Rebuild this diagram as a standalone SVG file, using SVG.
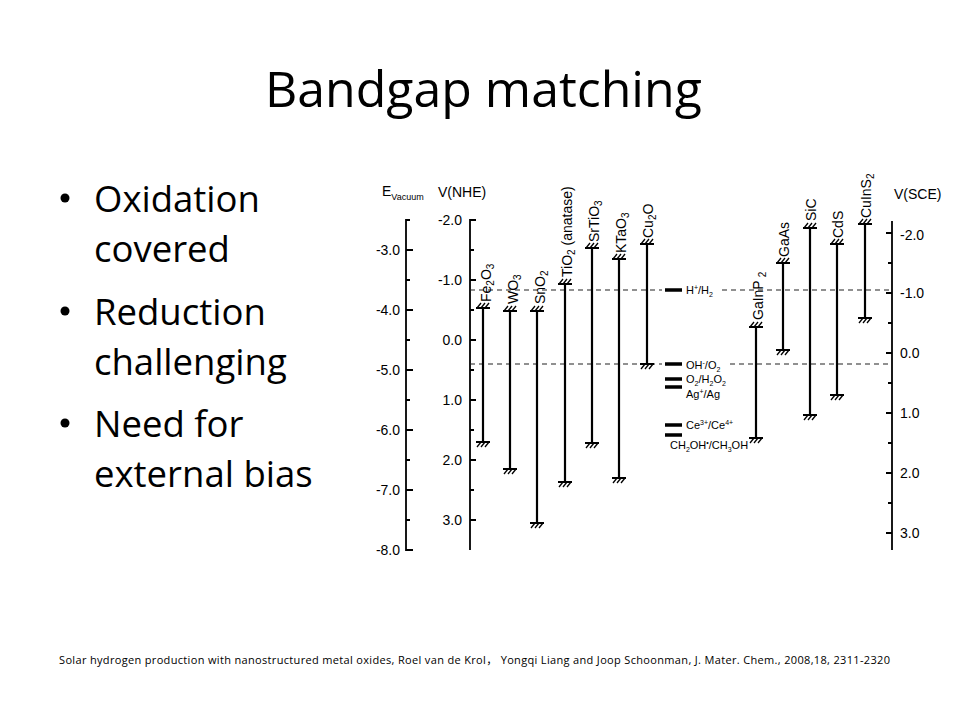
<svg xmlns="http://www.w3.org/2000/svg" width="960" height="720" viewBox="0 0 960 720">
<style>
.ttl{font-family:"Open Sans","Liberation Sans",sans-serif;font-size:50px;fill:#000}
.bul{font-family:"Open Sans","Liberation Sans",sans-serif;font-size:36.5px;fill:#000}
.ref{font-family:"Open Sans","Liberation Sans","Noto Sans CJK SC",sans-serif;font-size:11px;fill:#000}
.ax{font-family:"Liberation Sans",Arial,sans-serif;font-size:14px;fill:#000}
.axr{font-family:"Liberation Sans",Arial,sans-serif;font-size:14px;fill:#000;text-anchor:end}
.lab{font-family:"Liberation Sans",Arial,sans-serif;font-size:14px;fill:#000}
.rx{font-family:"Liberation Sans",Arial,sans-serif;font-size:11px;fill:#000}
.line{stroke:#000;stroke-width:1.8;fill:none}
.bar{stroke:#000;stroke-width:2.2;fill:none}
.dash{stroke:#222;stroke-width:1.1;stroke-dasharray:5,4;fill:none}
.rb{stroke:#000;stroke-width:3.5}
</style>
<defs>
<g id="hT" stroke="#000" fill="none" stroke-width="1.3">
<line x1="-7" y1="0" x2="7" y2="0" stroke-width="2"/>
<line x1="-6" y1="0" x2="-2" y2="-5"/>
<line x1="-2" y1="0" x2="2" y2="-5"/>
<line x1="2" y1="0" x2="6" y2="-5"/>
</g>
<g id="hB" stroke="#000" fill="none" stroke-width="1.3">
<line x1="-7" y1="0" x2="7" y2="0" stroke-width="2"/>
<line x1="-6" y1="5" x2="-2" y2="0"/>
<line x1="-2" y1="5" x2="2" y2="0"/>
<line x1="2" y1="5" x2="6" y2="0"/>
</g>
</defs>
<rect width="960" height="720" fill="#fff"/>

<text class="ttl" x="265" y="107">Bandgap matching</text>

<g id="bullets">
<circle cx="65" cy="198" r="4.5"/>
<text class="bul" x="94" y="212">Oxidation</text>
<text class="bul" x="94" y="262">covered</text>
<circle cx="65" cy="311" r="4.5"/>
<text class="bul" x="94" y="325">Reduction</text>
<text class="bul" x="94" y="375">challenging</text>
<circle cx="65" cy="423" r="4.5"/>
<text class="bul" x="94" y="437">Need for</text>
<text class="bul" x="94" y="487">external bias</text>
</g>

<g id="axis-vacuum">
<text class="ax" x="382" y="196">E<tspan font-size="9" dy="4">Vacuum</tspan></text>
<path class="line" d="M410 220H406V550H413"/>
<path class="line" d="M406 250h7M406 310h7M406 370h7M406 430h7M406 490h7M406 280h4M406 340h4M406 400h4M406 460h4M406 520h4"/>
<text class="axr" x="400" y="255">-3.0</text>
<text class="axr" x="400" y="315">-4.0</text>
<text class="axr" x="400" y="375">-5.0</text>
<text class="axr" x="400" y="435">-6.0</text>
<text class="axr" x="400" y="495">-7.0</text>
<text class="axr" x="400" y="555">-8.0</text>
</g>

<g id="axis-nhe">
<text class="ax" x="438" y="197">V(NHE)</text>
<path class="line" d="M476 220H470V550"/>
<path class="line" d="M470 280h6M470 340h6M470 400h6M470 460h6M470 520h6M470 250h4M470 310h4M470 370h4M470 430h4M470 490h4"/>
<text class="axr" x="462" y="225">-2.0</text>
<text class="axr" x="462" y="285">-1.0</text>
<text class="axr" x="462" y="345">0.0</text>
<text class="axr" x="462" y="405">1.0</text>
<text class="axr" x="462" y="465">2.0</text>
<text class="axr" x="462" y="525">3.0</text>
</g>

<g id="axis-sce">
<text class="ax" x="894" y="199">V(SCE)</text>
<path class="line" d="M892 221V550"/>
<path class="line" d="M886 233h6M886 293h6M886 353h6M886 413h6M886 473h6M886 533h6M888 263h4M888 323h4M888 383h4M888 443h4M888 503h4"/>
<text class="ax" x="900" y="240">-2.0</text>
<text class="ax" x="900" y="298">-1.0</text>
<text class="ax" x="900" y="358">0.0</text>
<text class="ax" x="900" y="418">1.0</text>
<text class="ax" x="900" y="478">2.0</text>
<text class="ax" x="900" y="538">3.0</text>
</g>

<g id="connectors">
<path class="dash" d="M470 290H662M722 290H890"/>
<path class="dash" d="M470 364H662M730 364H890"/>
</g>

<g id="redox">
<path class="rb" d="M665 290h17M665 364h17M665 379h17M665 387h17M665 425h17M665 435h17"/>
<text class="rx" x="686" y="294">H<tspan font-size="7" dy="-4">+</tspan><tspan dy="4">/H</tspan><tspan font-size="7" dy="3">2</tspan></text>
<text class="rx" x="686" y="369">OH<tspan font-size="7" dy="-4">-</tspan><tspan dy="4">/O</tspan><tspan font-size="7" dy="3">2</tspan></text>
<text class="rx" x="686" y="383">O<tspan font-size="7" dy="3">2</tspan><tspan dy="-3">/H</tspan><tspan font-size="7" dy="3">2</tspan><tspan dy="-3">O</tspan><tspan font-size="7" dy="3">2</tspan></text>
<text class="rx" x="686" y="398">Ag<tspan font-size="7" dy="-4">+</tspan><tspan dy="4">/Ag</tspan></text>
<text class="rx" x="686" y="429">Ce<tspan font-size="7" dy="-4">3+</tspan><tspan dy="4">/Ce</tspan><tspan font-size="7" dy="-4">4+</tspan></text>
<text class="rx" x="670" y="449">CH<tspan font-size="7" dy="3">2</tspan><tspan dy="-3">OH</tspan><tspan font-size="7" dy="-4">•</tspan><tspan dy="4">/CH</tspan><tspan font-size="7" dy="3">3</tspan><tspan dy="-3">OH</tspan></text>
</g>

<g id="Fe2O3">
<line class="bar" x1="483" y1="308" x2="483" y2="442"/>
<use href="#hT" x="483" y="308"/><use href="#hB" x="483" y="442"/>
<text class="lab" transform="translate(491,302) rotate(-90)">Fe<tspan font-size="10" dy="3">2</tspan><tspan dy="-3">O</tspan><tspan font-size="10" dy="3">3</tspan></text>
</g>
<g id="WO3">
<line class="bar" x1="510" y1="311" x2="510" y2="469"/>
<use href="#hT" x="510" y="311"/><use href="#hB" x="510" y="469"/>
<text class="lab" transform="translate(518,304) rotate(-90)">WO<tspan font-size="10" dy="3">3</tspan></text>
</g>
<g id="SnO2">
<line class="bar" x1="537" y1="311" x2="537" y2="523"/>
<use href="#hT" x="537" y="311"/><use href="#hB" x="537" y="523"/>
<text class="lab" transform="translate(545,304) rotate(-90)">SnO<tspan font-size="10" dy="3">2</tspan></text>
</g>
<g id="TiO2">
<line class="bar" x1="565" y1="284" x2="565" y2="482"/>
<use href="#hT" x="565" y="284"/><use href="#hB" x="565" y="482"/>
<text class="lab" transform="translate(572,277) rotate(-90)">TiO<tspan font-size="10" dy="3">2</tspan><tspan dy="-3"> (anatase)</tspan></text>
</g>
<g id="SrTiO3">
<line class="bar" x1="592" y1="248" x2="592" y2="443"/>
<use href="#hT" x="592" y="248"/><use href="#hB" x="592" y="443"/>
<text class="lab" transform="translate(599,242) rotate(-90)">SrTiO<tspan font-size="10" dy="3">3</tspan></text>
</g>
<g id="KTaO3">
<line class="bar" x1="619" y1="259" x2="619" y2="478"/>
<use href="#hT" x="619" y="259"/><use href="#hB" x="619" y="478"/>
<text class="lab" transform="translate(626,253) rotate(-90)">KTaO<tspan font-size="10" dy="3">3</tspan></text>
</g>
<g id="Cu2O">
<line class="bar" x1="647" y1="244" x2="647" y2="364"/>
<use href="#hT" x="647" y="244"/><use href="#hB" x="647" y="364"/>
<text class="lab" transform="translate(653,238) rotate(-90)">Cu<tspan font-size="10" dy="3">2</tspan><tspan dy="-3">O</tspan></text>
</g>
<g id="GaInP2">
<line class="bar" x1="756" y1="327" x2="756" y2="438"/>
<use href="#hT" x="756" y="327"/><use href="#hB" x="756" y="438"/>
<text class="lab" transform="translate(763,320) rotate(-90)">GaInP<tspan font-size="10" dy="3" dx="3">2</tspan></text>
</g>
<g id="GaAs">
<line class="bar" x1="783" y1="263" x2="783" y2="350"/>
<use href="#hT" x="783" y="263"/><use href="#hB" x="783" y="350"/>
<text class="lab" transform="translate(789,257) rotate(-90)">GaAs</text>
</g>
<g id="SiC">
<line class="bar" x1="810" y1="228" x2="810" y2="415"/>
<use href="#hT" x="810" y="228"/><use href="#hB" x="810" y="415"/>
<text class="lab" transform="translate(816,221) rotate(-90)">SiC</text>
</g>
<g id="CdS">
<line class="bar" x1="837" y1="244" x2="837" y2="395"/>
<use href="#hT" x="837" y="244"/><use href="#hB" x="837" y="395"/>
<text class="lab" transform="translate(843,238) rotate(-90)">CdS</text>
</g>
<g id="CuInS2">
<line class="bar" x1="865" y1="224" x2="865" y2="318"/>
<use href="#hT" x="865" y="224"/><use href="#hB" x="865" y="318"/>
<text class="lab" transform="translate(871,218) rotate(-90)">CuInS<tspan font-size="10" dy="3">2</tspan></text>
</g>

<text class="ref" x="59" y="664" textLength="831" lengthAdjust="spacing">Solar hydrogen production with nanostructured metal oxides, Roel van de Krol， Yongqi Liang and Joop Schoonman, J. Mater. Chem., 2008,18, 2311-2320</text>
</svg>
